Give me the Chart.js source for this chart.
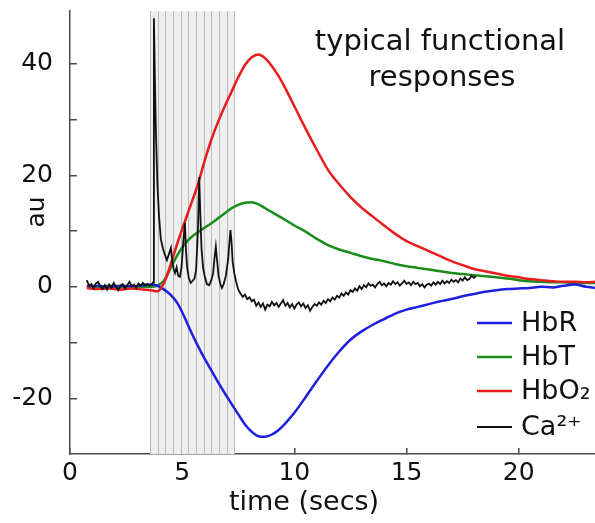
<!DOCTYPE html>
<html>
<head>
<meta charset="utf-8">
<script src="https://cdn.jsdelivr.net/npm/chart.js@4/dist/chart.umd.min.js"></script>
<style>
  html, body { margin: 0; padding: 0; background: #fff; }
  #chart_responses { display: block; }
</style>
</head>
<body>
<canvas id="chart_responses" width="595" height="523"></canvas>
<script>
// time grid shared by the three haemoglobin curves (secs)
var hbTime = [0.75, 1.25, 1.75, 2.25, 2.75, 3.25, 3.6, 3.9, 4.2, 4.5, 4.8, 5.1, 5.4, 5.7, 6.0, 6.3, 6.6, 6.9, 7.2, 7.5,
  7.8, 8.1, 8.4, 8.7, 9.0, 9.3, 9.6, 10.0, 10.5, 11.0, 11.5, 12.0, 12.5, 13.0, 13.5, 14.0, 14.5, 15.0, 15.5, 16.0,
  16.5, 17.0, 17.5, 18.0, 18.5, 19.0, 19.5, 20.0, 20.5, 21.0, 21.5, 22.0, 22.5, 23.0, 23.4];

var hbR = [0.1, 0.2, 0.0, 0.2, 0.1, 0.3, 0.4, 0.2, -0.5, -1.5, -3.0, -5.4, -8.1, -10.6, -12.9, -15.0, -17.1, -19.1, -21.0, -22.9,
  -24.7, -26.0, -26.8, -26.9, -26.5, -25.7, -24.5, -22.6, -19.8, -16.9, -14.1, -11.6, -9.5, -8.0, -6.8, -5.8, -4.8, -4.1, -3.6, -3.1,
  -2.6, -2.2, -1.7, -1.3, -0.9, -0.6, -0.4, -0.3, -0.2, 0.0, -0.1, 0.2, 0.4, 0.0, -0.2];

var hbT = [0.1, 0.0, 0.2, -0.1, 0.1, 0.0, 0.0, 0.2, 1.2, 3.5, 5.8, 7.6, 8.9, 9.8, 10.6, 11.4, 12.3, 13.2, 14.1, 14.7,
  15.1, 15.2, 14.8, 14.1, 13.4, 12.7, 12.0, 11.0, 9.9, 8.6, 7.5, 6.7, 6.1, 5.5, 5.0, 4.6, 4.1, 3.7, 3.4, 3.1,
  2.8, 2.5, 2.3, 2.1, 1.9, 1.7, 1.5, 1.2, 1.0, 0.9, 0.8, 0.8, 0.7, 0.7, 0.7];

var hbO2 = [-0.2, -0.4, -0.3, -0.5, -0.3, -0.5, -0.6, -0.8, 0.8, 4.2, 8.0, 11.5, 14.9, 18.4, 22.6, 26.4, 29.6, 32.4, 35.0, 37.6,
  39.8, 41.2, 41.7, 41.0, 39.6, 37.8, 35.6, 32.4, 28.4, 24.6, 21.0, 18.4, 16.1, 14.2, 12.6, 11.0, 9.5, 8.2, 7.3, 6.4,
  5.5, 4.6, 3.9, 3.2, 2.8, 2.4, 2.0, 1.7, 1.4, 1.2, 1.0, 0.9, 0.9, 0.8, 0.9];

// calcium trace
var caTime = [0.75, 0.85, 0.95, 1.05, 1.15, 1.25, 1.35, 1.45, 1.55, 1.65, 1.75, 1.85, 1.95, 2.05, 2.15, 2.25, 2.35, 2.45, 2.55, 2.65,
  2.75, 2.85, 2.95, 3.05, 3.15, 3.25, 3.35, 3.45, 3.55, 3.65,
  3.70, 3.74, 3.78, 3.83, 3.90, 3.97, 4.05, 4.15, 4.25, 4.32, 4.42, 4.50, 4.56, 4.62, 4.68, 4.75, 4.82, 4.90, 4.97, 5.05,
  5.12, 5.17, 5.22, 5.30, 5.38, 5.45, 5.55, 5.62, 5.70, 5.76, 5.80, 5.86, 5.93, 6.00, 6.10, 6.20, 6.30, 6.38, 6.45, 6.50,
  6.55, 6.62, 6.70, 6.77, 6.85, 6.95, 7.05, 7.15, 7.20, 7.25, 7.32, 7.40, 7.50, 7.60, 7.70, 7.80, 7.90, 8.00, 8.10, 8.20,
  8.30, 8.40, 8.50, 8.60, 8.70, 8.80, 8.90, 9.00, 9.10, 9.20, 9.30, 9.40, 9.50, 9.60, 9.70, 9.80, 9.90, 10.0, 10.1, 10.2,
  10.3, 10.4, 10.5, 10.6, 10.7, 10.8, 10.9, 11.0, 11.1, 11.2, 11.3, 11.4, 11.5, 11.6, 11.7, 11.8, 11.9, 12.0, 12.1, 12.2,
  12.3, 12.4, 12.5, 12.6, 12.7, 12.8, 12.9, 13.0, 13.1, 13.2, 13.3, 13.4, 13.5, 13.6, 13.7, 13.8, 13.9, 14.0, 14.1, 14.2,
  14.3, 14.4, 14.5, 14.6, 14.7, 14.8, 14.9, 15.0, 15.1, 15.2, 15.3, 15.4, 15.5, 15.6, 15.7, 15.8, 15.9, 16.0, 16.1, 16.2,
  16.3, 16.4, 16.5, 16.6, 16.7, 16.8, 16.9, 17.0, 17.1, 17.2, 17.3, 17.4, 17.5, 17.6, 17.7, 17.8, 17.9, 18.0, 18.1];

var ca = [1.2, 0.2, 0.5, -0.3, 0.6, 0.9, 0.1, -0.4, 0.3, -0.5, 0.4, -0.2, 0.7, 0.0, -0.6, 0.2, 0.5, -0.3, 0.3, 0.9,
  0.1, 0.4, -0.2, 0.6, 0.2, 0.7, 0.3, 0.5, 0.2, 0.4,
  0.8, 48.2, 38, 27.6, 18, 12.6, 8.5, 6.8, 5.5, 4.8, 6.0, 7.0, 4.5, 3.2, 2.5, 3.5, 2.0, 1.8, 3.5, 8.0,
  11.5, 6.5, 3.5, 1.5, 0.7, 1.0, 1.5, 3.0, 10, 19.7, 14, 7, 3.5, 2.0, 0.5, 0.3, 1.2, 2.5, 5.5, 7.2,
  5.0, 2.0, 0.5, -0.2, 0.5, 2.0, 5, 10.2, 8.0, 4.5, 2.5, 1.0, -0.5, -1.2, -1.8, -1.4, -2.2, -1.9, -2.6, -2.3,
  -3.4, -2.8, -3.6, -3.0, -4.1, -3.2, -3.5, -2.7, -3.3, -2.9, -3.6, -3.0, -2.4, -3.4, -2.9, -3.7, -3.1, -3.9, -3.2, -2.8,
  -3.5, -3.0, -3.8, -3.3, -4.3, -3.6, -3.1, -3.4, -2.8, -3.2, -2.5, -2.9, -2.2, -2.6, -1.9, -2.3, -1.6, -1.9, -1.2, -1.6,
  -1.0, -1.4, -0.6, -0.9, -0.3, -0.7, 0.1, -0.4, 0.3, -0.1, 0.6, 0.2, 0.4, -0.1, 0.5, 0.9, 0.3, 0.6, 0.1, 0.7,
  0.4, 1.0, 0.5, 0.8, 0.2, 0.6, 1.1, 0.5, 0.8, 0.3, 0.9, 0.5, 0.7, 0.1, 0.5, -0.1, 0.4, 0.6, 0.2, 0.8,
  0.4, 0.9, 0.5, 1.1, 0.6, 1.0, 0.7, 1.3, 0.9, 1.2, 0.8, 1.5, 1.1, 1.7, 1.2, 1.4, 2.0, 1.6, 1.9];

// stimulus pulses (grey band)
var stimTimes = [3.57, 3.91, 4.25, 4.59, 4.93, 5.27, 5.62, 5.96, 6.30, 6.64, 6.98, 7.32];

var seriesNames = ['HbR', 'HbT', 'HbO\u2082', 'Ca\u00b2\u207a'];
var seriesColors = ['#1f1fe0', '#1a8c1a', '#e81c1c', '#111111'];

var xTicks = [0, 5, 10, 15, 20];
var yTicks = [-20, -10, 0, 10, 20, 30, 40];
var yTickLabels = ['-20', '', '0', '', '20', '', '40'];

var titleLines = ['typical functional', 'responses'];
var xTitle = 'time (secs)';
var yTitle = 'au';

function toPoints(xs, ys) {
  return xs.map(function(t, i) { return { x: t, y: ys[i] }; });
}

var FONT = '"DejaVu Sans", "Liberation Sans", sans-serif';
var AXIS = '#4a4a4a';

// grey stimulus band, title, axis titles and legend
var extras = {
  id: 'extras',
  beforeDatasetsDraw: function(chart) {
    var c = chart.ctx, x = chart.scales.x, a = chart.chartArea;
    var x0 = x.getPixelForValue(stimTimes[0]);
    var x1 = x.getPixelForValue(stimTimes[stimTimes.length - 1]);
    c.save();
    c.fillStyle = '#efefef';
    c.fillRect(x0, a.top, x1 - x0, a.bottom - a.top);
    c.strokeStyle = '#b8b8b8';
    c.lineWidth = 1;
    stimTimes.forEach(function(t) {
      var px = Math.round(x.getPixelForValue(t)) + 0.5;
      c.beginPath();
      c.moveTo(px, a.top);
      c.lineTo(px, a.bottom);
      c.stroke();
    });
    c.restore();
  },
  afterDraw: function(chart) {
    var c = chart.ctx;
    c.save();
    c.fillStyle = '#111';
    c.textAlign = 'center';
    c.textBaseline = 'alphabetic';
    c.font = '29px ' + FONT;
    c.fillText(titleLines[0], 440, 50);
    c.fillText(titleLines[1], 442, 86);

    c.font = '27px ' + FONT;
    c.fillText(xTitle, 304, 510);

    c.save();
    c.translate(44, 212);
    c.rotate(-Math.PI / 2);
    c.font = '25px ' + FONT;
    c.fillText(yTitle, 0, 0);
    c.restore();

    // legend
    var rows = [323, 357, 391, 427];
    c.textAlign = 'left';
    c.textBaseline = 'middle';
    c.font = '27px ' + FONT;
    chart.data.datasets.forEach(function(ds, i) {
      c.strokeStyle = ds.borderColor;
      c.lineWidth = ds.borderWidth;
      c.beginPath();
      c.moveTo(477, rows[i]);
      c.lineTo(512, rows[i]);
      c.stroke();
      c.fillStyle = '#111';
      c.fillText(ds.label, 521, rows[i] + 1);
    });
    c.restore();
  }
};

var ctx = document.getElementById('chart_responses').getContext('2d');
var chart = new Chart(ctx, {
  type: 'line',
  data: {
    datasets: [{
      label: seriesNames[0],
      data: toPoints(hbTime, hbR),
      borderColor: seriesColors[0],
      borderWidth: 2.5,
      cubicInterpolationMode: 'monotone',
      order: 2
    }, {
      label: seriesNames[1],
      data: toPoints(hbTime, hbT),
      borderColor: seriesColors[1],
      borderWidth: 2.5,
      cubicInterpolationMode: 'monotone',
      order: 3
    }, {
      label: seriesNames[2],
      data: toPoints(hbTime, hbO2),
      borderColor: seriesColors[2],
      borderWidth: 2.5,
      cubicInterpolationMode: 'monotone',
      order: 1
    }, {
      label: seriesNames[3],
      data: toPoints(caTime, ca),
      borderColor: seriesColors[3],
      borderWidth: 1.8,
      tension: 0,
      order: 0
    }]
  },
  options: {
    responsive: false,
    animation: false,
    events: [],
    layout: { padding: { top: 11, right: 0, left: 0, bottom: 0 } },
    elements: { point: { radius: 0 } },
    plugins: {
      legend: { display: false },
      tooltip: { enabled: false }
    },
    scales: {
      x: {
        type: 'linear',
        min: 0,
        max: 23.4,
        afterBuildTicks: function(scale) {
          scale.ticks = xTicks.map(function(v) { return { value: v }; });
        },
        afterFit: function(scale) {
          scale.height = 69;
          scale.paddingLeft = 0;
          scale.paddingRight = 0;
        },
        ticks: {
          color: '#111',
          font: { family: FONT, size: 25 },
          padding: 10,
          maxRotation: 0
        },
        grid: { drawOnChartArea: false, tickLength: -6, color: AXIS, lineWidth: 1.5 },
        border: { color: AXIS, width: 1.5 }
      },
      y: {
        type: 'linear',
        min: -30,
        max: 49.5,
        afterBuildTicks: function(scale) {
          scale.ticks = yTicks.map(function(v) { return { value: v }; });
        },
        afterFit: function(scale) {
          scale.width = 70;
          scale.paddingTop = 0;
          scale.paddingBottom = 0;
        },
        ticks: {
          color: '#111',
          font: { family: FONT, size: 25 },
          padding: 24,
          callback: function(value) {
            var i = yTicks.indexOf(value);
            return i >= 0 ? yTickLabels[i] : '';
          }
        },
        grid: { drawOnChartArea: false, tickLength: -7, color: AXIS, lineWidth: 1.5 },
        border: { color: AXIS, width: 1.5 }
      }
    }
  },
  plugins: [extras]
});
</script>
</body>
</html>
